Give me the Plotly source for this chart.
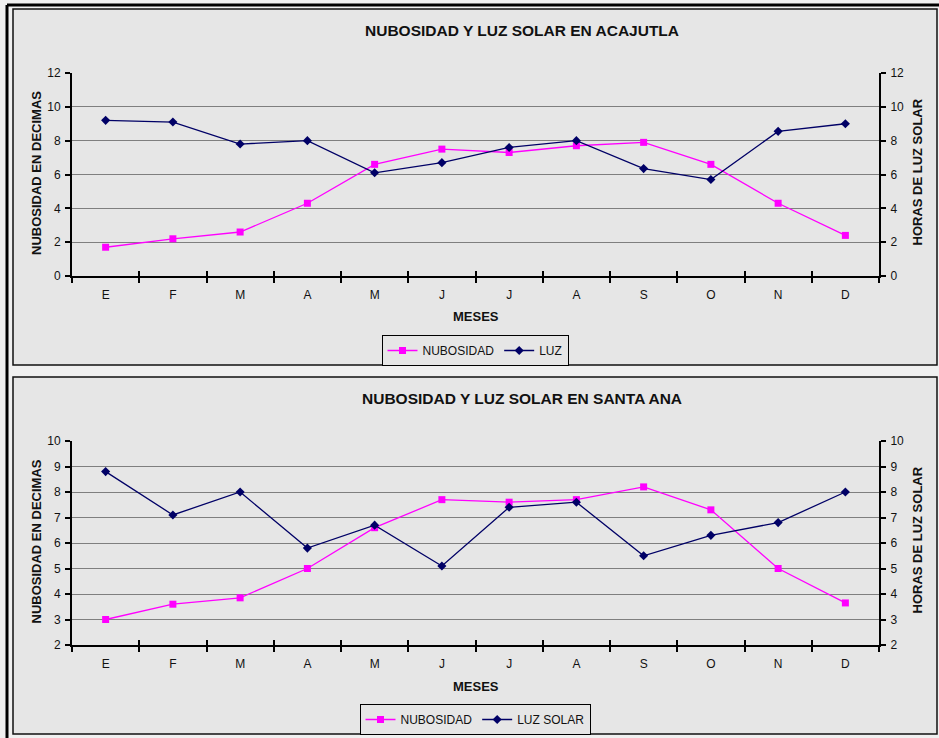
import plotly.graph_objects as go

# Monthly initials (Spanish), shared by both stations
meses = ["E", "F", "M", "A", "M", "J", "J", "A", "S", "O", "N", "D"]

# Acajutla: cloudiness (tenths) and sunshine hours
acajutla_nubosidad = [1.7, 2.2, 2.6, 4.3, 6.6, 7.5, 7.3, 7.7, 7.9, 6.6, 4.3, 2.4]
acajutla_luz = [9.2, 9.1, 7.8, 8.0, 6.1, 6.7, 7.6, 8.0, 6.35, 5.7, 8.55, 9.0]

# Santa Ana: cloudiness (tenths) and sunshine hours
santa_ana_nubosidad = [3.0, 3.6, 3.85, 5.0, 6.6, 7.7, 7.6, 7.7, 8.2, 7.3, 5.0, 3.65]
santa_ana_luz = [8.8, 7.1, 8.0, 5.8, 6.7, 5.1, 7.4, 7.6, 5.5, 6.3, 6.8, 8.0]

W, H = 939, 738
BG = "#e6e6e6"
PAGE_BG = "#f0f0f0"
MAGENTA = "#ff00ff"
NAVY = "#000066"
FONT = "Liberation Sans, Arial, sans-serif"

x_idx = list(range(len(meses)))
x_range = [-0.5, len(meses) - 0.5]


def px_x(p):
    return p / W


def px_y(p):
    return 1 - p / H


fig = go.Figure()

# ---- traces -------------------------------------------------------------
fig.add_trace(go.Scatter(
    x=x_idx, y=acajutla_nubosidad, name="NUBOSIDAD", xaxis="x", yaxis="y",
    mode="lines+markers", line=dict(color=MAGENTA, width=1.3),
    marker=dict(symbol="square", size=7, color=MAGENTA), legend="legend"))
fig.add_trace(go.Scatter(
    x=x_idx, y=acajutla_luz, name="LUZ", xaxis="x", yaxis="y2",
    mode="lines+markers", line=dict(color=NAVY, width=1.3),
    marker=dict(symbol="diamond", size=7, color=NAVY), legend="legend"))
fig.add_trace(go.Scatter(
    x=x_idx, y=santa_ana_nubosidad, name="NUBOSIDAD", xaxis="x2", yaxis="y3",
    mode="lines+markers", line=dict(color=MAGENTA, width=1.3),
    marker=dict(symbol="square", size=7, color=MAGENTA), legend="legend2"))
fig.add_trace(go.Scatter(
    x=x_idx, y=santa_ana_luz, name="LUZ SOLAR", xaxis="x2", yaxis="y4",
    mode="lines+markers", line=dict(color=NAVY, width=1.3),
    marker=dict(symbol="diamond", size=7, color=NAVY), legend="legend2"))
# empty carriers for the overlay axes that draw the inner half of the x ticks
fig.add_trace(go.Scatter(x=[], y=[], xaxis="x3", yaxis="y", showlegend=False))
fig.add_trace(go.Scatter(x=[], y=[], xaxis="x4", yaxis="y3", showlegend=False))

# ---- axes ---------------------------------------------------------------
dom_x = [px_x(72), px_x(879)]
dom_top = [px_y(276), px_y(73)]
dom_bot = [px_y(645), px_y(441)]

tickfont = dict(family=FONT, size=12, color="#111111")


def month_axis(domain, anchor):
    return dict(
        domain=domain, anchor=anchor, range=x_range,
        tickmode="array", tickvals=x_idx, ticktext=meses,
        ticks="", showgrid=False, zeroline=False,
        showline=True, linecolor="black", linewidth=2,
        tickfont=tickfont, ticklabelstandoff=7, automargin=False,
        minor=dict(tick0=-0.5, dtick=1, ticks="outside", ticklen=5,
                   tickwidth=2, tickcolor="black", showgrid=False),
        fixedrange=True)


def inner_tick_axis(overlay, anchor):
    return dict(
        overlaying=overlay, anchor=anchor, range=x_range,
        tick0=-0.5, dtick=1, ticks="inside", ticklen=5, tickwidth=2,
        tickcolor="black", showticklabels=False, showgrid=False,
        zeroline=False, showline=False, automargin=False)


def value_axis(domain, anchor, rng, side="left", overlay=None, grid=True):
    ax = dict(
        range=rng, dtick=1 if rng[1] - rng[0] <= 8 else 2, tick0=0,
        side=side, anchor=anchor,
        ticks="outside", ticklen=5, tickwidth=1.5, tickcolor="black",
        showline=True, linecolor="black", linewidth=2,
        showgrid=grid, gridcolor="#7f7f7f", gridwidth=1.3,
        zeroline=False, tickfont=tickfont, ticklabelstandoff=2,
        automargin=False, fixedrange=True)
    if overlay:
        ax["overlaying"] = overlay
    else:
        ax["domain"] = domain
    return ax


fig.update_layout(
    xaxis=month_axis(dom_x, "y"),
    xaxis2=month_axis(dom_x, "y3"),
    xaxis3=inner_tick_axis("x", "y"),
    xaxis4=inner_tick_axis("x2", "y3"),
    yaxis=value_axis(dom_top, "x", [0, 12]),
    yaxis2=value_axis(dom_top, "x", [0, 12], side="right", overlay="y", grid=False),
    yaxis3=value_axis(dom_bot, "x2", [2, 10]),
    yaxis4=value_axis(dom_bot, "x2", [2, 10], side="right", overlay="y3", grid=False),
)

# ---- legends ------------------------------------------------------------
legend_style = dict(
    orientation="h", xanchor="center", yanchor="middle",
    bgcolor=BG, bordercolor="black", borderwidth=1,
    font=dict(family=FONT, size=12, color="#111111"),
    itemwidth=30, tracegroupgap=0)
fig.update_layout(
    legend=dict(x=px_x(475), y=px_y(350.5), **legend_style),
    legend2=dict(x=px_x(475), y=px_y(719.5), **legend_style),
)

# ---- titles and axis labels ---------------------------------------------
bold = dict(family=FONT, size=13, color="#111111")
title_font = dict(family=FONT, size=15.5, color="#111111")
ann = []


def text(x, y, s, font, angle=0):
    ann.append(dict(x=px_x(x), y=px_y(y), xref="paper", yref="paper",
                    text=s, showarrow=False, font=font, textangle=angle,
                    xanchor="center", yanchor="middle"))


text(522, 30, "<b>NUBOSIDAD Y LUZ SOLAR EN ACAJUTLA</b>", title_font)
text(522, 398, "<b>NUBOSIDAD Y LUZ SOLAR EN SANTA ANA</b>", title_font)
text(476, 316, "<b>MESES</b>", bold)
text(476, 686, "<b>MESES</b>", bold)
text(36, 173, "<b>NUBOSIDAD EN DECIMAS</b>", bold, -90)
text(917, 172.5, "<b>HORAS DE LUZ SOLAR</b>", bold, -90)
text(36, 541.5, "<b>NUBOSIDAD EN DECIMAS</b>", bold, -90)
text(917, 540.5, "<b>HORAS DE LUZ SOLAR</b>", bold, -90)

# ---- chart-area frames ----------------------------------------------------
shapes = [
    dict(type="rect", xref="paper", yref="paper",
         x0=px_x(13), x1=px_x(937), y0=px_y(365), y1=px_y(9),
         line=dict(color="#111111", width=1.5), fillcolor=BG, layer="below"),
    dict(type="rect", xref="paper", yref="paper",
         x0=px_x(13), x1=px_x(937), y0=px_y(734), y1=px_y(377),
         line=dict(color="#111111", width=1.5), fillcolor=BG, layer="below"),
    dict(type="line", xref="paper", yref="paper",
         x0=px_x(7), x1=px_x(7), y0=0, y1=px_y(5),
         line=dict(color="black", width=3)),
    dict(type="line", xref="paper", yref="paper",
         x0=px_x(7), x1=1, y0=px_y(5), y1=px_y(5),
         line=dict(color="black", width=3)),
]

fig.update_layout(
    width=W, height=H, autosize=False,
    margin=dict(l=0, r=0, t=0, b=0, pad=0, autoexpand=False),
    paper_bgcolor=PAGE_BG, plot_bgcolor="rgba(0,0,0,0)",
    annotations=ann, shapes=shapes,
    font=dict(family=FONT),
    showlegend=True,
)

fig.write_html("out.html", config={"displayModeBar": False})
